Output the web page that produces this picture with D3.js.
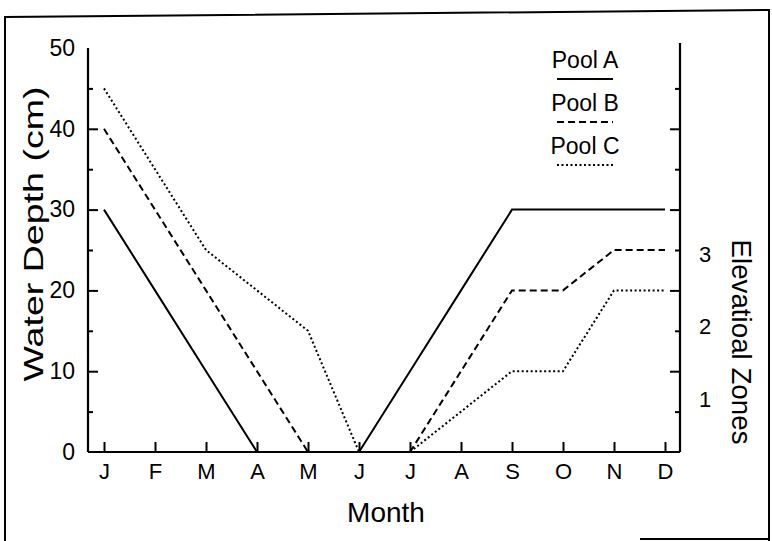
<!DOCTYPE html>
<html>
<head>
<meta charset="utf-8">
<script src="https://cdn.jsdelivr.net/npm/d3@7"></script>
<style>
  html, body { margin: 0; padding: 0; background: #fff; }
  svg { display: block; font-family: "Liberation Sans", Arial, sans-serif; }
</style>
</head>
<body>
<svg id="chart" width="772" height="541"></svg>
<script>
// ---- data ----
const months = ["J", "F", "M", "A", "M", "J", "J", "A", "S", "O", "N", "D"];
const poolA = [30, 20, 10, 0, 0, 0, 10, 20, 30, 30, 30, 30];
const poolB = [40, 30, 20, 10, 0, 0, 0, 10, 20, 20, 25, 25];
const poolC = [45, 35, 25, 20, 15, 0, 0, 5, 10, 10, 20, 20];
const seriesNames = ["Pool A", "Pool B", "Pool C"];
const depthTicks = [0, 10, 20, 30, 40, 50];
const depthMinorTicks = [5, 15, 25, 35, 45];
const zoneLabels = ["1", "2", "3"];
const zonePositions = [6.5, 15.5, 24.5];

// ---- layout ----
const svg = d3.select("#chart");
const x = d3.scaleLinear().domain([0, 11]).range([104, 665]);
const y = d3.scaleLinear().domain([0, 50]).range([452, 48]);
const axisLeftX = 88, axisRightX = 680;

// frame (scanned border)
svg.append("path")
  .attr("d", "M5,541 L5,17 L769,10 L769,541")
  .attr("fill", "none").attr("stroke", "#000").attr("stroke-width", 2);
svg.append("line").attr("x1", 640).attr("x2", 769).attr("y1", 539).attr("y2", 539)
  .attr("stroke", "#000").attr("stroke-width", 2);

// axis lines
const axisG = svg.append("g").attr("stroke", "#000").attr("stroke-width", 2.2).attr("fill", "none");
axisG.append("line").attr("x1", axisLeftX).attr("x2", axisLeftX).attr("y1", y(50)).attr("y2", y(0));
axisG.append("line").attr("x1", axisLeftX).attr("x2", axisRightX).attr("y1", y(0)).attr("y2", y(0));
axisG.append("line").attr("x1", axisRightX).attr("x2", axisRightX).attr("y1", y(50) - 5).attr("y2", y(0));

function styleAxis(g, fontSize) {
  g.attr("font-size", fontSize).attr("font-family", "Liberation Sans, Arial, sans-serif");
  g.select(".domain").remove();
  g.selectAll(".tick line").attr("stroke", "#000").attr("stroke-width", 2);
  g.selectAll(".tick text").attr("fill", "#000").attr("font-size", fontSize);
}

// left axis
const gl = svg.append("g").attr("transform", `translate(${axisLeftX},0)`)
  .call(d3.axisLeft(y).tickValues(depthTicks).tickSizeInner(-10).tickSizeOuter(0).tickPadding(13));
styleAxis(gl, 23);
const glm = svg.append("g").attr("transform", `translate(${axisLeftX},0)`)
  .call(d3.axisLeft(y).tickValues(depthMinorTicks).tickSizeInner(-5).tickSizeOuter(0).tickFormat(""));
styleAxis(glm, 23);
gl.selectAll(".tick").filter(d => d === 0).select("line").remove();
gl.selectAll(".tick").filter(d => d === 50).select("line").remove();

// right axis
const gr = svg.append("g").attr("transform", `translate(${axisRightX},0)`)
  .call(d3.axisRight(y).tickValues(depthTicks.filter(d => d > 0 && d < 50)).tickSizeInner(-10).tickSizeOuter(0).tickFormat(""));
styleAxis(gr, 23);
const grm = svg.append("g").attr("transform", `translate(${axisRightX},0)`)
  .call(d3.axisRight(y).tickValues(depthMinorTicks).tickSizeInner(-5).tickSizeOuter(0).tickFormat(""));
styleAxis(grm, 23);

// zone labels
svg.append("g").selectAll("text").data(zoneLabels).join("text")
  .attr("x", 705).attr("y", (d, i) => y(zonePositions[i]))
  .attr("dy", "0.35em").attr("text-anchor", "middle").attr("font-size", 22)
  .text(d => d);

// bottom axis
const gb = svg.append("g").attr("transform", `translate(0,${y(0)})`)
  .call(d3.axisBottom(x).tickValues(d3.range(months.length)).tickFormat(i => months[i])
    .tickSizeInner(-10).tickSizeOuter(0).tickPadding(11));
styleAxis(gb, 22);

// axis titles
svg.append("text").attr("x", 386).attr("y", 522).attr("text-anchor", "middle")
  .attr("font-size", 28).text("Month");
svg.append("text").attr("transform", "translate(43,234) rotate(-90)")
  .attr("text-anchor", "middle").attr("font-size", 28)
  .attr("textLength", 295).attr("lengthAdjust", "spacingAndGlyphs").text("Water Depth (cm)");
svg.append("text").attr("transform", "translate(732,342) rotate(90)")
  .attr("text-anchor", "middle").attr("font-size", 28)
  .attr("textLength", 205).attr("lengthAdjust", "spacingAndGlyphs").text("Elevatioal Zones");

// series
const dashes = [null, "7,4", "2,2.5"];
const allSeries = [poolA, poolB, poolC];
const line = d3.line().x((d, i) => x(i)).y(d => y(d));
svg.append("g").selectAll("path").data(allSeries).join("path")
  .attr("d", d => line(d))
  .attr("fill", "none").attr("stroke", "#000").attr("stroke-width", 2)
  .attr("stroke-dasharray", (d, i) => dashes[i]);

// legend
const lg = svg.append("g").selectAll("g").data(seriesNames).join("g")
  .attr("transform", (d, i) => `translate(585,${68 + i * 43})`);
lg.append("text").attr("text-anchor", "middle").attr("font-size", 23).text(d => d);
lg.append("line").attr("x1", -28).attr("x2", 28).attr("y1", 11).attr("y2", 11)
  .attr("stroke", "#000").attr("stroke-width", 2)
  .attr("stroke-dasharray", (d, i) => dashes[i]);
</script>
</body>
</html>
